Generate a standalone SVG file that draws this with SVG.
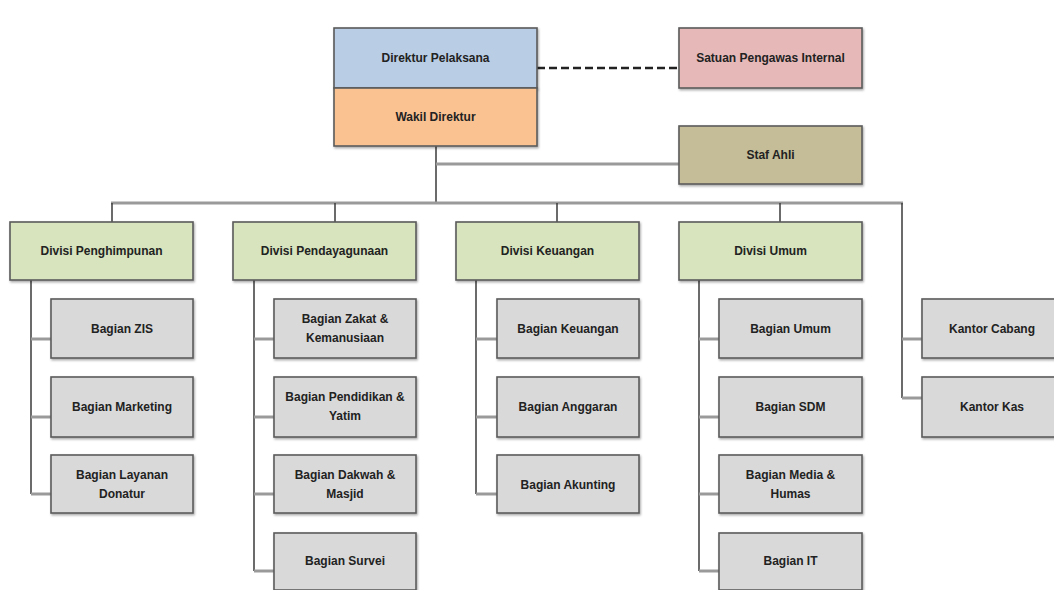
<svg xmlns="http://www.w3.org/2000/svg" width="1054" height="590" viewBox="0 0 1054 590">
<defs>
<filter id="sh" x="-5%" y="-5%" width="110%" height="115%">
<feDropShadow dx="1" dy="1.5" stdDeviation="0.8" flood-color="#000" flood-opacity="0.35"/>
</filter>
<style>
.b{stroke:#5a5a5a;stroke-width:1.6;filter:url(#sh)}
.dir{fill:#b9cde5}
.wak{fill:#fac191}
.spi{fill:#e6b9b8}
.staf{fill:#c4bd97}
.div{fill:#d7e4bd}
.bag{fill:#d9d9d9}
text{font-family:"Liberation Sans",Arial,sans-serif;font-weight:bold;font-size:12px;text-anchor:middle;fill:#222}
.h{stroke:#9a9a9a;stroke-width:3;fill:none}
.v{stroke:#3a3a3a;stroke-width:1.5;fill:none}
.dash{stroke:#222;stroke-width:2.5;stroke-dasharray:8 4;fill:none}
</style>
</defs>
<rect width="1054" height="590" fill="#fff"/>
<g id="connectors">
<line class="dash" x1="537" y1="68" x2="679" y2="68"/>
<line class="v" x1="436" y1="146" x2="436" y2="203"/>
<line class="h" x1="436" y1="164" x2="679" y2="164"/>
<line class="h" x1="111" y1="203" x2="903" y2="203"/>
<line class="v" x1="112" y1="203" x2="112" y2="222"/>
<line class="v" x1="335" y1="203" x2="335" y2="222"/>
<line class="v" x1="557" y1="203" x2="557" y2="222"/>
<line class="v" x1="780" y1="203" x2="780" y2="222"/>
<line class="v" x1="902" y1="203" x2="902" y2="398"/>
<line class="h" x1="902" y1="339" x2="922" y2="339"/>
<line class="h" x1="902" y1="398" x2="922" y2="398"/>
<line class="v" x1="31" y1="280" x2="31" y2="494"/>
<line class="h" x1="31" y1="339" x2="51" y2="339"/>
<line class="h" x1="31" y1="417" x2="51" y2="417"/>
<line class="h" x1="31" y1="494" x2="51" y2="494"/>
<line class="v" x1="254" y1="280" x2="254" y2="571"/>
<line class="h" x1="254" y1="339" x2="274" y2="339"/>
<line class="h" x1="254" y1="417" x2="274" y2="417"/>
<line class="h" x1="254" y1="494" x2="274" y2="494"/>
<line class="h" x1="254" y1="571" x2="274" y2="571"/>
<line class="v" x1="476" y1="280" x2="476" y2="494"/>
<line class="h" x1="476" y1="339" x2="497" y2="339"/>
<line class="h" x1="476" y1="417" x2="497" y2="417"/>
<line class="h" x1="476" y1="494" x2="497" y2="494"/>
<line class="v" x1="699" y1="280" x2="699" y2="571"/>
<line class="h" x1="699" y1="339" x2="719" y2="339"/>
<line class="h" x1="699" y1="417" x2="719" y2="417"/>
<line class="h" x1="699" y1="494" x2="719" y2="494"/>
<line class="h" x1="699" y1="571" x2="719" y2="571"/>
</g>
<g id="direktur"><rect class="b dir" x="334" y="28" width="203" height="60"/><text x="435.5" y="62" fill="#1f3050">Direktur Pelaksana</text></g>
<g id="wakil"><rect class="b wak" x="334" y="88" width="203" height="58"/><text x="435.5" y="121" fill="#3a1d08">Wakil Direktur</text></g>
<g id="spi"><rect class="b spi" x="679" y="28" width="183" height="60"/><text x="770.5" y="62">Satuan Pengawas Internal</text></g>
<g id="staf"><rect class="b staf" x="679" y="126" width="183" height="58"/><text x="770.5" y="159">Staf Ahli</text></g>

<g id="div-penghimpunan"><rect class="b div" x="10" y="222" width="183" height="58"/><text x="101.5" y="255">Divisi Penghimpunan</text></g>
<g id="div-pendayagunaan"><rect class="b div" x="233" y="222" width="183" height="58"/><text x="324.5" y="255">Divisi Pendayagunaan</text></g>
<g id="div-keuangan"><rect class="b div" x="456" y="222" width="183" height="58"/><text x="547.5" y="255">Divisi Keuangan</text></g>
<g id="div-umum"><rect class="b div" x="679" y="222" width="183" height="58"/><text x="770.5" y="255">Divisi Umum</text></g>

<g id="bag-zis"><rect class="b bag" x="51" y="299" width="142" height="59"/><text x="122" y="333">Bagian ZIS</text></g>
<g id="bag-marketing"><rect class="b bag" x="51" y="377" width="142" height="60"/><text x="122" y="411">Bagian Marketing</text></g>
<g id="bag-layanan"><rect class="b bag" x="51" y="455" width="142" height="58"/><text x="122" y="479">Bagian Layanan</text><text x="122" y="498">Donatur</text></g>

<g id="bag-zakat"><rect class="b bag" x="274" y="299" width="142" height="59"/><text x="345" y="323">Bagian Zakat &amp;</text><text x="345" y="342">Kemanusiaan</text></g>
<g id="bag-pendidikan"><rect class="b bag" x="274" y="377" width="142" height="60"/><text x="345" y="401">Bagian Pendidikan &amp;</text><text x="345" y="420">Yatim</text></g>
<g id="bag-dakwah"><rect class="b bag" x="274" y="455" width="142" height="58"/><text x="345" y="479">Bagian Dakwah &amp;</text><text x="345" y="498">Masjid</text></g>
<g id="bag-survei"><rect class="b bag" x="274" y="533" width="142" height="57"/><text x="345" y="565">Bagian Survei</text></g>

<g id="bag-keuangan"><rect class="b bag" x="497" y="299" width="142" height="59"/><text x="568" y="333">Bagian Keuangan</text></g>
<g id="bag-anggaran"><rect class="b bag" x="497" y="377" width="142" height="60"/><text x="568" y="411">Bagian Anggaran</text></g>
<g id="bag-akunting"><rect class="b bag" x="497" y="455" width="142" height="58"/><text x="568" y="489">Bagian Akunting</text></g>

<g id="bag-umum"><rect class="b bag" x="719" y="299" width="143" height="59"/><text x="790.5" y="333">Bagian Umum</text></g>
<g id="bag-sdm"><rect class="b bag" x="719" y="377" width="143" height="60"/><text x="790.5" y="411">Bagian SDM</text></g>
<g id="bag-media"><rect class="b bag" x="719" y="455" width="143" height="58"/><text x="790.5" y="479">Bagian Media &amp;</text><text x="790.5" y="498">Humas</text></g>
<g id="bag-it"><rect class="b bag" x="719" y="533" width="143" height="57"/><text x="790.5" y="565">Bagian IT</text></g>

<g id="kantor-cabang"><rect class="b bag" x="922" y="299" width="140" height="59"/><text x="992" y="333">Kantor Cabang</text></g>
<g id="kantor-kas"><rect class="b bag" x="922" y="377" width="140" height="60"/><text x="992" y="411">Kantor Kas</text></g>
</svg>
